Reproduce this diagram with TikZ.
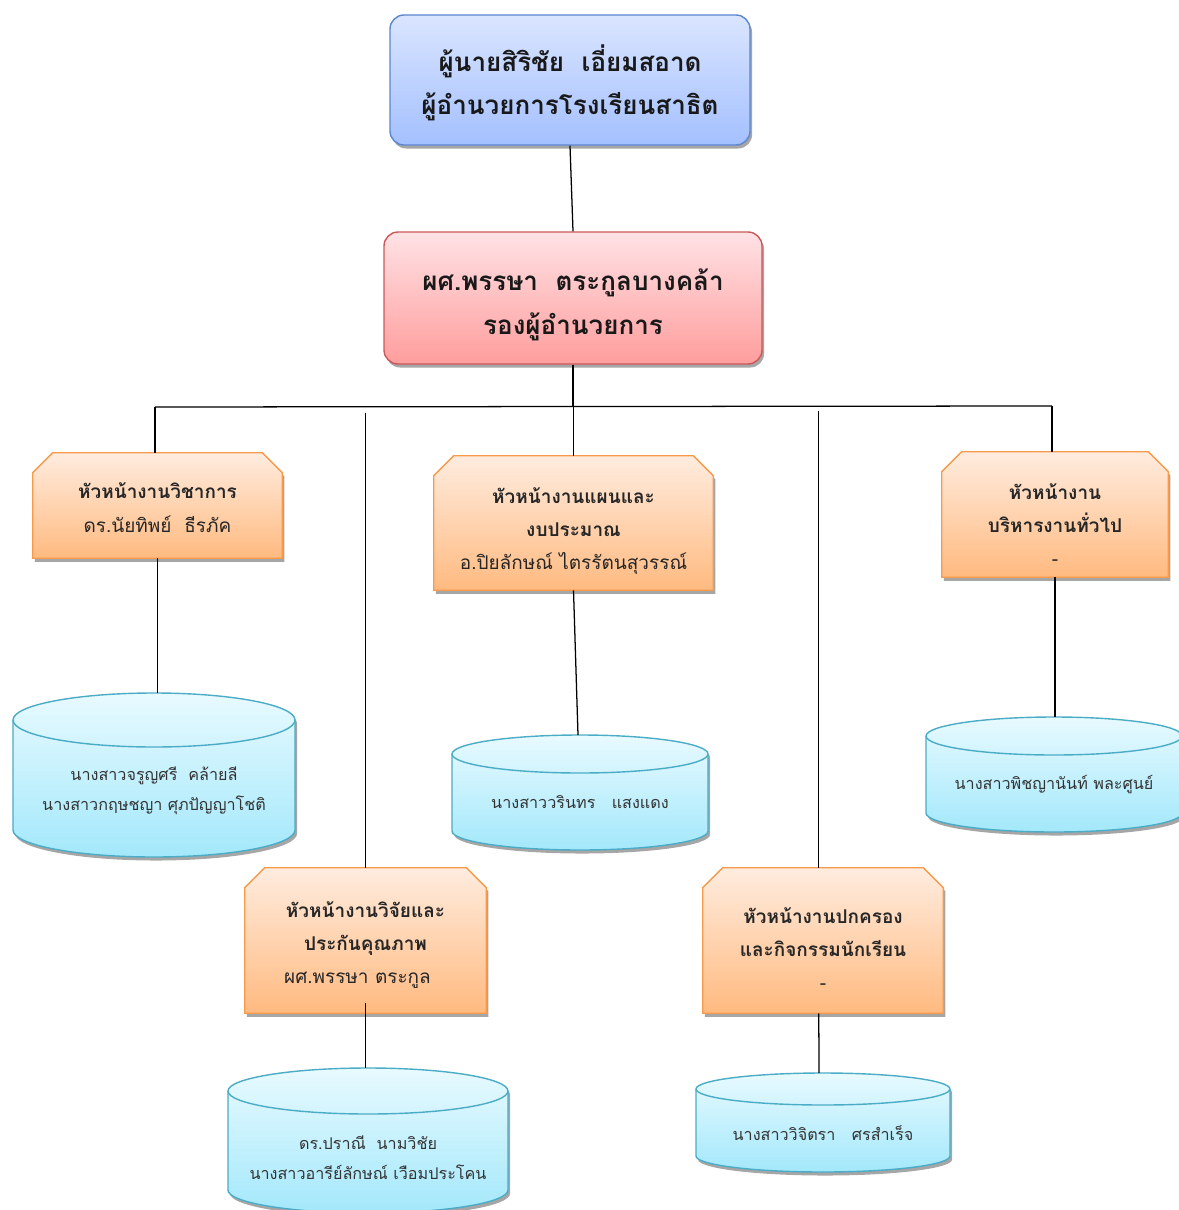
\documentclass[tikz,border=0pt]{standalone}
\usepackage{fontspec}
\setmainfont[Script=Thai]{Loma}
\usetikzlibrary{shadows, backgrounds}

\definecolor{bossline}{HTML}{5B87D0}
\definecolor{bosstop}{HTML}{DAE5FF}
\definecolor{bossbot}{HTML}{A4C0FF}
\definecolor{depline}{HTML}{C9595A}
\definecolor{deptop}{HTML}{FFE2E5}
\definecolor{depbot}{HTML}{FF9D9D}
\definecolor{headline}{HTML}{F79A4A}
\definecolor{headtop}{HTML}{FFECDF}
\definecolor{headbot}{HTML}{FFBA80}
\definecolor{staffline}{HTML}{4BACC6}
\definecolor{stafftop}{HTML}{E8FAFF}
\definecolor{staffbot}{HTML}{A3E8FB}

\tikzset{
  boxshadow/.style={drop shadow={shadow xshift=1.5pt, shadow yshift=-2.5pt, opacity=.35, fill=black}},
  bosstext/.style={align=center, text=black!90, font=\fontsize{18.5}{31}\selectfont\bfseries},
  bossbox/.style={rectangle, rounded corners=10pt, draw=bossline, line width=1pt,
    top color=bosstop, bottom color=bossbot, boxshadow, inner sep=0pt},
  depbox/.style={bossbox, draw=depline, top color=deptop, bottom color=depbot},
  headtext/.style={align=center, text=black!85, font=\fontsize{13.5}{23.5}\selectfont},
  headbox/.style={rectangle, inner sep=0pt},
  headshape/.style={draw=headline, line width=1pt, top color=headtop, bottom color=headbot, boxshadow},
  cylbody/.style={draw=staffline, line width=1pt, top color=stafftop, bottom color=staffbot, boxshadow},
  cyltext/.style={align=center, text=black!80, font=\fontsize{11.5}{21.3}\selectfont},
  link/.style={line width=0.9pt}
}

\begin{document}
\begin{tikzpicture}[x=0.25mm, y=0.25mm]
\useasboundingbox (0,0) rectangle (1178,-1210);

% top of the chart
\node[bossbox, minimum width=90mm, minimum height=32.5mm,
  label={[bosstext, yshift=-2pt]center:{ผู้นายสิริชัย~~เอี่ยมสอาด\\ผู้อำนวยการโรงเรียนสาธิต}}] (boss) at (570,-80) {};
\node[depbox, minimum width=94.5mm, minimum height=33mm,
  label={[bosstext, yshift=-5pt]center:{ผศ.พรรษา~~ตระกูลบางคล้า\\รองผู้อำนวยการ}}] (dep) at (573,-298) {};

% heads of work
\node[headbox, minimum width=62.25mm, minimum height=26.25mm,
  label={[headtext, yshift=-1.5pt]center:{\textbf{หัวหน้างานวิชาการ}\\ดร.นัยทิพย์~~ธีรภัค}}] (acad) at (157.5,-505.5) {};
\node[headbox, minimum width=69.75mm, minimum height=33.5mm,
  label={[headtext, yshift=-6pt]center:{\textbf{หัวหน้างานแผนและ}\\\textbf{งบประมาณ}\\อ.ปิยลักษณ์ ไตรรัตนสุวรรณ์}}] (plan) at (573.5,-523) {};
\node[headbox, minimum width=56.5mm, minimum height=31.25mm,
  label={[headtext, yshift=-7pt]center:{\textbf{หัวหน้างาน}\\\textbf{บริหารงานทั่วไป}\\-}}] (admin) at (1055,-514.5) {};
\node[headbox, minimum width=60.25mm, minimum height=36.25mm,
  label={[headtext, yshift=-3pt]center:{\textbf{หัวหน้างานวิจัยและ}\\\textbf{ประกันคุณภาพ}\\ผศ.พรรษา ตระกูล\hspace*{4mm}}}] (rsch) at (365.5,-940.5) {};
\node[headbox, minimum width=60mm, minimum height=36.25mm,
  label={[headtext, yshift=-5.5pt]center:{\textbf{หัวหน้างานปกครอง}\\\textbf{และกิจกรรมนักเรียน}\\-}}] (stud) at (823,-940.5) {};

% boxes with cut top corners
\begin{scope}[on background layer]
\foreach \n in {acad,plan,admin,rsch,stud}
  \path[headshape] (\n.south west) -- ([yshift=-5mm]\n.north west) -- ([xshift=5mm]\n.north west)
    -- ([xshift=-5mm]\n.north east) -- ([yshift=-5mm]\n.north east) -- (\n.south east) -- cycle;
\end{scope}

% staff
\path[cylbody] (13,-720) -- (13,-830) arc[start angle=180, end angle=360, x radius=141, y radius=27]
  -- (295,-720) arc[start angle=0, end angle=180, x radius=141, y radius=27] -- cycle;
\draw[staffline, line width=1pt] (13,-720) arc[start angle=180, end angle=360, x radius=141, y radius=27];
\coordinate (s1) at (154,-693);
\node[cyltext] (t1) at (154,-791) {นางสาวจรูญศรี~~คล้ายลี\\นางสาวกฤษชญา ศุภปัญญาโชติ};

\path[cylbody] (452,-754) -- (452,-831) arc[start angle=180, end angle=360, x radius=128, y radius=19]
  -- (708,-754) arc[start angle=0, end angle=180, x radius=128, y radius=19] -- cycle;
\draw[staffline, line width=1pt] (452,-754) arc[start angle=180, end angle=360, x radius=128, y radius=19];
\coordinate (s2) at (578,-735);
\node[cyltext] (t2) at (580,-802) {นางสาววรินทร~~~แสงแดง};

\path[cylbody] (926,-736) -- (926,-813) arc[start angle=180, end angle=360, x radius=128, y radius=19]
  -- (1182,-736) arc[start angle=0, end angle=180, x radius=128, y radius=19] -- cycle;
\draw[staffline, line width=1pt] (926,-736) arc[start angle=180, end angle=360, x radius=128, y radius=19];
\coordinate (s3) at (1054,-717);
\node[cyltext] (t3) at (1054,-785) {นางสาวพิชญานันท์ พละศูนย์};

\path[cylbody] (228,-1091) -- (228,-1190) arc[start angle=180, end angle=360, x radius=140, y radius=23]
  -- (508,-1091) arc[start angle=0, end angle=180, x radius=140, y radius=23] -- cycle;
\draw[staffline, line width=1pt] (228,-1091) arc[start angle=180, end angle=360, x radius=140, y radius=23];
\coordinate (s4) at (367,-1068);
\node[cyltext] (t4) at (368,-1158) {ดร.ปราณี~~นามวิชัย\\นางสาวอารีย์ลักษณ์ เวือมประโคน};

\path[cylbody] (696,-1089) -- (696,-1156) arc[start angle=180, end angle=360, x radius=127, y radius=16]
  -- (950,-1089) arc[start angle=0, end angle=180, x radius=127, y radius=16] -- cycle;
\draw[staffline, line width=1pt] (696,-1089) arc[start angle=180, end angle=360, x radius=127, y radius=16];
\coordinate (s5) at (819,-1073);
\node[cyltext] (t5) at (823,-1133) {นางสาววิจิตรา~~~ศรสำเร็จ};

% lines
\coordinate (busL) at (155,-407);
\coordinate (busR) at (1052,-406);
\draw[link] (boss.south) -- (dep.north);
\draw[link] (dep.south) -- (dep.south |- busL);
\draw[link] (busL) -- (busR);
\draw[link] (busL) -- (busL |- acad.north);
\draw[link] (busR) -- (busR |- admin.north);
\draw[link] (plan.north |- busL) -- (plan.north);
\draw[link] ([yshift=-4pt]rsch.north |- busL) -- (rsch.north);
\draw[link] ([xshift=-3pt, yshift=-3pt]stud.north |- busL) -- ([xshift=-3pt]stud.north);
\draw[link] (acad.south) -- (acad.south |- s1);
\draw[link] (plan.south) -- (s2);
\draw[link] (admin.south) -- (admin.south |- s3);
\draw[link] ([yshift=7pt]rsch.south) -- (rsch.south |- s4);
\draw[link] ([xshift=-3pt]stud.south) -- (s5);

\end{tikzpicture}
\end{document}
